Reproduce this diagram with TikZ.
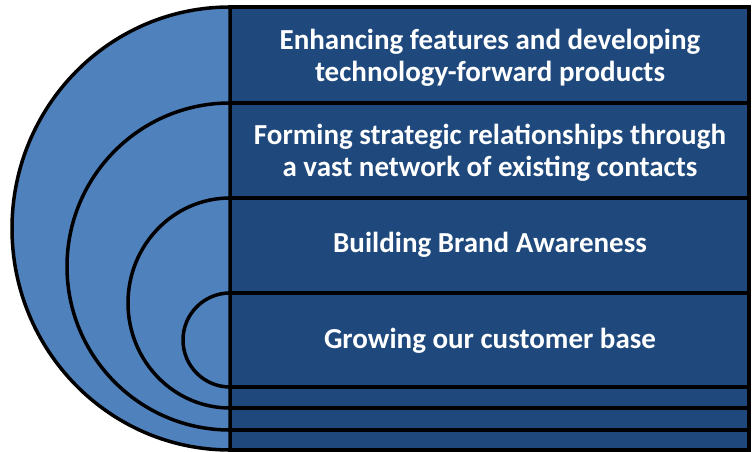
\documentclass[tikz,border=0pt]{standalone}
\usepackage{fontspec}
\setmainfont{Carlito}
\definecolor{lightb}{RGB}{79,129,189}
\definecolor{darkb}{RGB}{31,73,125}
\begin{document}
\begin{tikzpicture}[x=1pt,y=1pt,
  halfdisk/.style={fill=lightb,draw=black,line width=3.5pt},
  band/.style={fill=darkb,draw=black,line width=3.5pt},
  lbl/.style={text=white,font=\bfseries\fontsize{29}{32}\selectfont,align=center,inner sep=0pt}]
\useasboundingbox (0,0) rectangle (752,452);
% layer 1
\draw[band] (230,2) rectangle (749,445);
\draw[halfdisk] (230,445) arc[start angle=90,end angle=270,x radius=218,y radius=221.5] -- cycle;
% layer 2
\draw[band] (230,22) rectangle (749,349);
\draw[halfdisk] (230,349) arc[start angle=90,end angle=270,x radius=163,y radius=163.5] -- cycle;
% layer 3
\draw[band] (230,44) rectangle (749,254);
\draw[halfdisk] (230,254) arc[start angle=90,end angle=270,x radius=102,y radius=105] -- cycle;
% layer 4
\draw[band] (230,65) rectangle (749,159);
\draw[halfdisk] (230,159) arc[start angle=90,end angle=270,x radius=47,y radius=47] -- cycle;
% labels
\node[lbl] (t1) at (490,394) {Enhancing features and developing\\technology-forward products};
\node[lbl] (t2) at (490,299) {Forming strategic relationships through\\a vast network of existing contacts};
\node[lbl] (t3) at (490,207) {Building Brand Awareness};
\node[lbl] (t4) at (490,111) {Growing our customer base};
\end{tikzpicture}
\end{document}
